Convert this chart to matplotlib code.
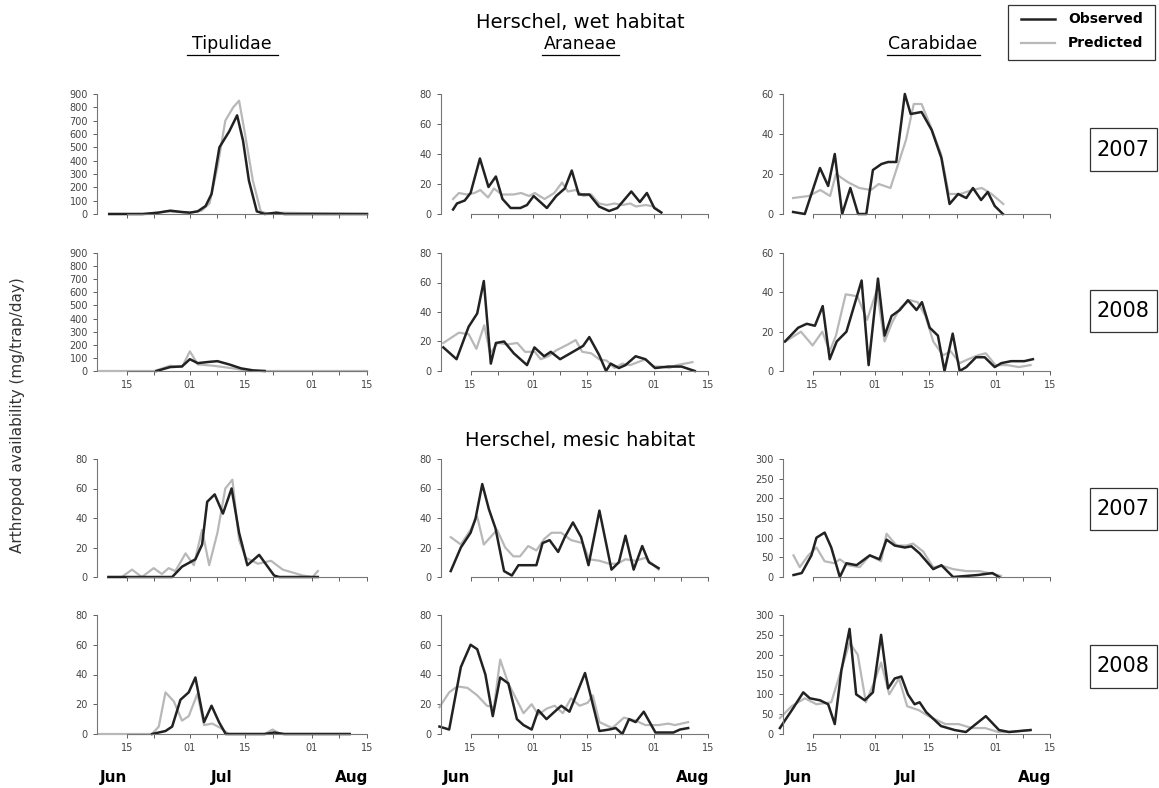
import matplotlib.pyplot as plt
from matplotlib.lines import Line2D
from matplotlib.patches import Rectangle

# x values are days counted from 1 June (1 Jul = 31, 1 Aug = 62)
minor_pos = [15, 22, 31, 38, 45, 52, 62, 69, 76]
minor_lab = ['15', '', '01', '', '15', '', '01', '', '15']
month_pos = [11.5, 39, 72]
month_lab = ['Jun', 'Jul', 'Aug']

# ---- wet habitat ----
tip_w07_obs_x = [10.5, 19, 23, 26, 29, 31, 33, 35, 36.5, 38.5, 41, 43, 44.5, 46, 48, 50, 53, 55, 76]
tip_w07_obs_y = [0, 0, 10, 25, 15, 10, 20, 60, 150, 500, 620, 740, 550, 250, 20, 0, 10, 0, 0]
tip_w07_pre_x = [10.5, 20, 25, 28, 31, 34, 36, 38, 40, 42, 43.5, 45, 47, 49, 51, 53, 76]
tip_w07_pre_y = [0, 0, 20, 15, 10, 25, 80, 350, 700, 800, 850, 600, 250, 20, 0, 10, 0]
tip_w08_obs_x = [22.5, 26, 29, 31, 33, 36, 38, 41, 44, 47, 50]
tip_w08_obs_y = [0, 30, 35, 90, 60, 70, 75, 50, 20, 5, 0]
tip_w08_pre_x = [8, 22, 26, 29, 31, 33, 37, 42, 46, 76]
tip_w08_pre_y = [0, 0, 40, 30, 150, 50, 40, 20, 0, 0]

ara_w07_obs_x = [10.5, 11.5, 13.5, 15, 17.4, 19.6, 21.5, 23.2, 25.3, 27.8, 29.5, 31.2, 34.6, 37, 39.2, 41, 42.8, 45.5, 48, 50.6, 52.7, 56.3, 58.5, 60.3, 62.2, 64]
ara_w07_obs_y = [3, 7, 9, 14, 37, 18, 25, 10, 4, 4, 6, 12, 4, 12, 17, 29, 13, 13, 5, 2, 4, 15, 8, 14, 4, 1]
ara_w07_pre_x = [10.5, 12, 14, 16, 17.5, 19.5, 21, 23, 26, 28, 30, 31.5, 34, 36.5, 38.5, 40, 42, 44, 46, 48, 50, 52, 54, 56, 57.5, 60, 62, 64]
ara_w07_pre_y = [10, 14, 13, 14, 16, 11, 17, 13, 13, 14, 12, 14, 10, 14, 21, 15, 16, 12, 13, 7, 6, 7, 6, 7, 5, 6, 5, 1]
ara_w08_obs_x = [8, 11.4, 14.5, 16.7, 18.4, 20.2, 21.5, 23.6, 26.1, 29.5, 31.4, 33.9, 35.6, 38, 41.3, 43.9, 45.5, 48, 49.8, 51, 53.1, 54.8, 57.4, 59.9, 62.4, 65.8, 69.2, 72.6]
ara_w08_obs_y = [16, 8, 30, 39, 61, 5, 19, 20, 12, 4, 16, 10, 13, 8, 13, 17, 23, 11, 0, 5, 2, 4, 10, 8, 2, 3, 3, 0]
ara_w08_pre_x = [8, 12, 14.5, 16.5, 18.5, 20, 22, 24.5, 27, 29, 31.5, 33, 35, 37, 40, 42, 43.7, 46, 48, 50, 52, 54, 56, 58, 60, 62, 64, 66, 68, 70, 72]
ara_w08_pre_y = [19, 26, 25, 15, 31, 12, 19, 18, 19, 13, 13, 8, 10, 14, 18, 21, 13, 12, 8, 7, 2, 5, 4, 6, 8, 3, 3, 2, 4, 5, 6]

car_w07_obs_x = [10, 13, 16.9, 19, 20.7, 22.6, 24.7, 26.7, 28.8, 30.5, 32.7, 34.4, 36.5, 38.7, 40.2, 43, 45.6, 48.1, 50.2, 52.4, 54.5, 56.2, 58.3, 60, 61.8, 63.9]
car_w07_obs_y = [1, 0, 23, 14, 30, 0, 13, 0, 0, 22, 25, 26, 26, 60, 50, 51, 42, 28, 5, 10, 8, 13, 7, 11, 4, 0]
car_w07_pre_x = [10, 14, 17, 19.5, 21, 24, 27, 30, 32, 35, 37, 39, 41, 43, 45.5, 48, 50, 53, 56, 58.5, 61, 64]
car_w07_pre_y = [8, 9, 12, 9, 20, 16, 13, 12, 15, 13, 25, 37, 55, 55, 43, 30, 10, 10, 12, 13, 10, 5]
car_w08_obs_x = [7.9, 11.3, 13.5, 15.6, 17.6, 19.4, 21.2, 23.7, 27.6, 29.4, 31.8, 33.5, 35.3, 37.4, 39.5, 41.7, 43.1, 45.1, 47.2, 48.9, 51, 52.8, 54.5, 57, 59.2, 61.8, 63.5, 66, 69.4, 71.6]
car_w08_obs_y = [15, 22, 24, 23, 33, 6, 15, 20, 46, 3, 47, 18, 28, 31, 36, 31, 35, 22, 18, 0, 19, 0, 2, 7, 7, 2, 4, 5, 5, 6]
car_w08_pre_x = [8, 12, 15, 17.5, 19.4, 21, 23.5, 26.5, 29, 31.5, 33.5, 35.5, 37.5, 40, 42, 44, 46, 48.5, 50.5, 52.8, 55, 57.5, 59.5, 62, 65, 68, 71]
car_w08_pre_y = [15, 20, 13, 20, 10, 18, 39, 38, 26, 41, 15, 25, 32, 36, 35, 28, 15, 8, 10, 4, 6, 8, 9, 3, 3, 2, 3]

# ---- mesic habitat ----
tip_m07_obs_x = [10.3, 26.5, 29, 32.4, 34.1, 35.4, 37.3, 39.4, 41.6, 43.5, 45.6, 48.6, 52.4, 53.7, 63.5]
tip_m07_obs_y = [0, 0, 7, 12, 22, 51, 56, 43, 60, 30, 8, 15, 1, 0, 0]
tip_m07_pre_x = [10.3, 13.7, 16.3, 18.8, 21.8, 23.9, 25.6, 27.3, 29.9, 32, 34.1, 35.9, 38, 40, 41.8, 43.5, 45.2, 48.3, 51.6, 54.6, 59.7, 62.2, 63.5]
tip_m07_pre_y = [0, 0, 5, 0, 6, 2, 6, 4, 16, 8, 32, 8, 30, 60, 66, 25, 13, 9, 11, 5, 1, 0, 4]
tip_m08_obs_x = [21.4, 24.8, 26.5, 28.6, 30.7, 32.4, 34.6, 36.5, 38.4, 40.1, 50, 52.4, 55, 71.6]
tip_m08_obs_y = [0, 2, 5, 23, 28, 38, 8, 19, 8, 0, 0, 1, 0, 0]
tip_m08_pre_x = [7.8, 21.4, 23.1, 24.8, 26.9, 29, 30.7, 32.9, 34.6, 36.7, 38.8, 40.9, 50, 52, 54, 71.6]
tip_m08_pre_y = [0, 0, 5, 28, 22, 9, 12, 27, 6, 7, 4, 0, 0, 3, 0, 0]

ara_m07_obs_x = [9.9, 12.5, 15, 16.3, 18, 19.7, 21.4, 23.6, 25.6, 27.3, 29.4, 31.9, 33.5, 35.3, 37.5, 39.2, 41.3, 43.4, 45.3, 48.1, 51.2, 53.1, 54.8, 56.9, 59.1, 60.8, 63.3]
ara_m07_obs_y = [4, 20, 30, 40, 63, 46, 33, 4, 1, 8, 8, 8, 23, 25, 17, 27, 37, 27, 8, 45, 5, 10, 28, 5, 21, 10, 6]
ara_m07_pre_x = [9.9, 12.5, 15, 16.7, 18.4, 21.8, 23.9, 26, 27.7, 29.8, 31.9, 34, 35.8, 38.3, 40.8, 43.8, 45.5, 48.1, 50.6, 52.7, 54.8, 57.4, 59.9, 63.3]
ara_m07_pre_y = [27, 22, 32, 41, 22, 32, 20, 14, 14, 21, 18, 26, 30, 30, 25, 23, 12, 11, 9, 9, 12, 11, 13, 5]
ara_m08_obs_x = [7, 9.5, 12.5, 15, 16.7, 18.8, 20.7, 22.6, 24.7, 26.9, 28.6, 30.7, 32.4, 34.5, 36.6, 38.3, 40.4, 44.4, 48.1, 50.6, 52.3, 54, 55.7, 57.4, 59.5, 62.5, 65, 67.1, 68.8, 70.9]
ara_m08_obs_y = [5, 3, 45, 60, 57, 40, 12, 38, 34, 10, 6, 3, 16, 10, 15, 19, 15, 41, 2, 3, 4, 0, 10, 8, 15, 1, 1, 1, 3, 4]
ara_m08_pre_x = [7, 9.5, 11.6, 14.2, 16.7, 19.2, 21, 22.6, 24.7, 28.6, 30.7, 32.4, 34.5, 36.6, 38.7, 40.8, 43, 45.1, 46.4, 48.1, 51.4, 54.4, 57.4, 59.9, 63.3, 65.8, 67.5, 70.9]
ara_m08_pre_y = [18, 28, 32, 31, 26, 19, 18, 50, 34, 14, 20, 13, 17, 19, 14, 24, 19, 21, 26, 8, 4, 11, 9, 6, 6, 7, 6, 8]

car_m07_obs_x = [10.1, 12.2, 14.7, 16, 18.1, 19.8, 22, 23.7, 26.3, 29.7, 32.2, 34, 36.1, 38.7, 40.4, 42.5, 46, 48.1, 51.1, 57.4, 61.2, 62.9]
car_m07_obs_y = [5, 10, 55, 100, 113, 75, 0, 35, 30, 55, 45, 95, 80, 75, 78, 60, 20, 30, 0, 5, 10, 0]
car_m07_pre_x = [10.1, 11.7, 13.9, 16, 18.1, 20.6, 22, 24.1, 27.1, 29.7, 32.6, 34, 36.6, 39.1, 40.8, 43.4, 46, 48.5, 51.1, 54.5, 57.9, 61.2, 63.4]
car_m07_pre_y = [55, 25, 55, 75, 40, 35, 45, 30, 25, 55, 40, 110, 80, 80, 85, 65, 25, 28, 20, 15, 15, 8, 3]
car_m08_obs_x = [6.6, 10, 12.6, 14.3, 16.9, 19, 20.7, 22.4, 24.5, 26.2, 28.4, 30.5, 32.6, 34.4, 36.1, 37.8, 39.5, 41.2, 42.5, 44.2, 48, 51.5, 54.4, 59.5, 62.9, 65.5, 71]
car_m08_obs_y = [15, 65, 105, 90, 85, 75, 25, 160, 265, 100, 85, 105, 250, 115, 140, 145, 100, 75, 80, 55, 20, 10, 5, 45, 10, 5, 10]
car_m08_pre_x = [6.6, 9.6, 13, 16, 19.8, 22, 24.5, 26.6, 28.7, 30.8, 32.6, 34.7, 37.2, 39.3, 42.3, 44.8, 49.1, 52.5, 55.9, 59.3, 62.7, 65.3, 71]
car_m08_pre_y = [40, 70, 90, 75, 80, 150, 230, 200, 80, 130, 180, 100, 140, 70, 60, 45, 25, 25, 15, 15, 5, 5, 10]

panels = [
    [(tip_w07_obs_x, tip_w07_obs_y, tip_w07_pre_x, tip_w07_pre_y, 900, 100),
     (ara_w07_obs_x, ara_w07_obs_y, ara_w07_pre_x, ara_w07_pre_y, 80, 20),
     (car_w07_obs_x, car_w07_obs_y, car_w07_pre_x, car_w07_pre_y, 60, 20)],
    [(tip_w08_obs_x, tip_w08_obs_y, tip_w08_pre_x, tip_w08_pre_y, 900, 100),
     (ara_w08_obs_x, ara_w08_obs_y, ara_w08_pre_x, ara_w08_pre_y, 80, 20),
     (car_w08_obs_x, car_w08_obs_y, car_w08_pre_x, car_w08_pre_y, 60, 20)],
    [(tip_m07_obs_x, tip_m07_obs_y, tip_m07_pre_x, tip_m07_pre_y, 80, 20),
     (ara_m07_obs_x, ara_m07_obs_y, ara_m07_pre_x, ara_m07_pre_y, 80, 20),
     (car_m07_obs_x, car_m07_obs_y, car_m07_pre_x, car_m07_pre_y, 300, 50)],
    [(tip_m08_obs_x, tip_m08_obs_y, tip_m08_pre_x, tip_m08_pre_y, 80, 20),
     (ara_m08_obs_x, ara_m08_obs_y, ara_m08_pre_x, ara_m08_pre_y, 80, 20),
     (car_m08_obs_x, car_m08_obs_y, car_m08_pre_x, car_m08_pre_y, 300, 50)],
]

W, H = 1159, 788
fig = plt.figure(figsize=(W / 100, H / 100), dpi=100)
plt.rcParams['font.family'] = ['DejaVu Sans']

col_left = [97, 441, 783]
col_right = [367, 708, 1050]
row_top = [94, 253, 459, 615]
row_bot = [214, 371, 577, 734]

def fx(px):
    return px / W

def fy(py):
    return 1 - py / H

for r in range(4):
    for c in range(3):
        ox, oy, px_, py_, ymax, ystep = panels[r][c]
        ax = fig.add_axes([fx(col_left[c]), fy(row_bot[r]),
                           (col_right[c] - col_left[c]) / W,
                           (row_bot[r] - row_top[r]) / H])
        ax.plot(px_, py_, color='#b8b8b8', lw=1.6, clip_on=False)
        ax.plot(ox, oy, color='#222222', lw=1.8, clip_on=False)
        ax.set_xlim(7.4, 76)
        ax.set_ylim(0, ymax)
        ax.spines['top'].set_visible(False)
        ax.spines['right'].set_visible(False)
        ax.spines['bottom'].set_bounds(15, 76)
        for s in ['left', 'bottom']:
            ax.spines[s].set_color('#777777')
            ax.spines[s].set_linewidth(0.8)
        ax.set_yticks(list(range(0, ymax + 1, ystep)))
        ax.tick_params(axis='y', labelsize=7, colors='#444444', length=3, width=0.6)
        ax.set_xticks(minor_pos)
        if r in (1, 3):
            ax.set_xticklabels(minor_lab)
        else:
            ax.set_xticklabels([''] * len(minor_pos))
        ax.tick_params(axis='x', labelsize=7, colors='#444444', length=3, width=0.6)
        if r == 3:
            for xm, lab in zip(month_pos, month_lab):
                ax.text(xm, -0.3 * ymax, lab, ha='center', va='top',
                        fontsize=11, fontweight='bold')

fig.text(fx(580), fy(22), 'Herschel, wet habitat', ha='center', va='center', fontsize=14)
fig.text(fx(580), fy(440), 'Herschel, mesic habitat', ha='center', va='center', fontsize=14)

for name, cx, x0, x1 in [('Tipulidae', 232, 187, 278), ('Araneae', 580, 542, 619),
                         ('Carabidae', 933, 887, 980)]:
    fig.text(fx(cx), fy(44), name, ha='center', va='center', fontsize=12.5)
    fig.add_artist(Line2D([fx(x0), fx(x1)], [fy(55), fy(55)], color='black', lw=0.9))

fig.text(fx(18), fy(415), 'Arthropod availability (mg/trap/day)', rotation=90,
         ha='center', va='center', fontsize=11, color='#333333')

for yr, y0, y1 in [('2007', 128, 171), ('2008', 290, 332), ('2007', 488, 530), ('2008', 645, 688)]:
    fig.add_artist(Rectangle((fx(1090), fy(y1)), 67 / W, (y1 - y0) / H,
                             fill=False, edgecolor='#333333', lw=0.9))
    fig.text(fx(1123), fy((y0 + y1) / 2), yr, ha='center', va='center', fontsize=15)

# legend box
fig.add_artist(Rectangle((fx(1008), fy(60)), 147 / W, 55 / H, fill=False,
                         edgecolor='#333333', lw=0.9))
fig.add_artist(Line2D([fx(1021), fx(1055)], [fy(19), fy(19)], color='#222222', lw=1.8))
fig.add_artist(Line2D([fx(1021), fx(1055)], [fy(43), fy(43)], color='#b8b8b8', lw=1.6))
fig.text(fx(1068), fy(19), 'Observed', ha='left', va='center', fontsize=10, fontweight='bold')
fig.text(fx(1068), fy(43), 'Predicted', ha='left', va='center', fontsize=10, fontweight='bold')

fig.savefig('out.png', dpi=100)
